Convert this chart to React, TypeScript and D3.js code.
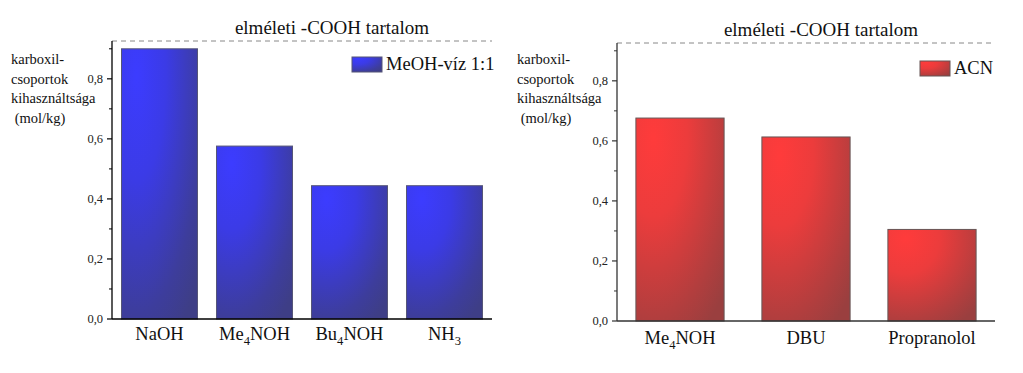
import React from 'react'
import * as d3 from 'd3'

const width = 1023
const height = 373
const font = 'Liberation Serif, Times New Roman, serif'

// left panel: MeOH-víz 1:1
const leftCategories = ['NaOH', 'Me4NOH', 'Bu4NOH', 'NH3']
const leftValues = [0.9, 0.576, 0.444, 0.444]
const leftLegend = 'MeOH-víz 1:1'

// right panel: ACN
const rightCategories = ['Me4NOH', 'DBU', 'Propranolol']
const rightValues = [0.676, 0.613, 0.305]
const rightLegend = 'ACN'

const majorTicks = [0, 0.2, 0.4, 0.6, 0.8]
const minorTicks = [0.1, 0.3, 0.5, 0.7, 0.9]
const theoretical = 0.926
const titleText = 'elméleti -COOH tartalom'
const yLabelLines = ['karboxil-', 'csoportok', 'kihasználtsága', ' (mol/kg)']

const fmt = (v: number) => d3.format('.1f')(v).replace('.', ',')

// digits inside chemical names are drawn as subscripts
function ChemLabel({ text, x, y, size }: { text: string; x: number; y: number; size: number }) {
  const parts = text.split(/(\d+)/).filter(p => p !== '')
  let shifted = false
  return (
    <text x={x} y={y} textAnchor="middle" fontSize={size} fontFamily={font} fill="#111">
      {parts.map((p, i) => {
        const isNum = /^\d+$/.test(p)
        let dy = 0
        if (isNum && !shifted) { dy = 5; shifted = true }
        else if (!isNum && shifted) { dy = -5; shifted = false }
        return (
          <tspan key={i} dy={dy} fontSize={isNum ? size * 0.68 : size}>{p}</tspan>
        )
      })}
    </text>
  )
}

type PanelProps = {
  categories: string[]
  values: number[]
  legend: string
  gradId: string
  x0: number
  x1: number
  y0: number
  yTop: number
  padInner: number
  padOuter: number
  axisColor: string
  stroke: string
  labelX: number
  tickLabelX: number
  titleX: number
  legendX: number
  legendY: number
  xLabelY: number
}

function Panel(p: PanelProps) {
  const x = d3.scaleBand<string>()
    .domain(p.categories)
    .range([p.x0, p.x1])
    .paddingInner(p.padInner)
    .paddingOuter(p.padOuter)
  const y = d3.scaleLinear().domain([0, theoretical]).range([p.y0, p.yTop])

  return (
    <g>
      {/* theoretical line */}
      <line x1={p.x0} x2={p.x1} y1={y(theoretical)} y2={y(theoretical)}
        stroke="#888" strokeWidth={1} strokeDasharray="5,4" />
      <text x={p.titleX} y={y(theoretical) - 7} textAnchor="middle" fontSize={19} fontFamily={font} fill="#111">
        {titleText}
      </text>

      {p.categories.map((c, i) => (
        <rect key={c} x={x(c)} y={y(p.values[i])} width={x.bandwidth()}
          height={y(0) - y(p.values[i])} fill={`url(#${p.gradId})`}
          stroke={p.stroke} strokeWidth={1} />
      ))}

      {/* axes */}
      <line x1={p.x0} x2={p.x0} y1={p.yTop} y2={p.y0} stroke={p.axisColor} strokeWidth={1.3} />
      <line x1={p.x0} x2={p.x1} y1={p.y0} y2={p.y0} stroke={p.axisColor} strokeWidth={1.3} />
      {majorTicks.map(t => (
        <g key={t}>
          <line x1={p.x0 - 5} x2={p.x0} y1={y(t)} y2={y(t)} stroke={p.axisColor} strokeWidth={1.2} />
          <text x={p.tickLabelX} y={y(t) + 4} textAnchor="end" fontSize={12.5} fontFamily={font} fill="#222">
            {fmt(t)}
          </text>
        </g>
      ))}
      {minorTicks.map(t => (
        <line key={t} x1={p.x0 - 3} x2={p.x0} y1={y(t)} y2={y(t)} stroke={p.axisColor} strokeWidth={1} />
      ))}

      {p.categories.map(c => (
        <ChemLabel key={c} text={c} x={(x(c) ?? 0) + x.bandwidth() / 2} y={p.xLabelY} size={18.5} />
      ))}

      <text fontSize={14.5} fontFamily={font} fill="#111">
        {yLabelLines.map((l, i) => (
          <tspan key={i} x={p.labelX} y={64 + i * 19.5} xmlSpace="preserve">{l}</tspan>
        ))}
      </text>

      {/* legend */}
      <rect x={p.legendX} y={p.legendY} width={30} height={15} fill={`url(#${p.gradId})`} stroke={p.stroke} strokeWidth={1} />
      <text x={p.legendX + 34} y={p.legendY + 13} fontSize={18.5} fontFamily={font} fill="#111">{p.legend}</text>
    </g>
  )
}

export default function App() {
  return (
    <svg width={width} height={height} style={{ display: 'block', position: 'absolute', left: 0, top: 0, background: '#fff' }}>
      <defs>
        <radialGradient id="blueFill" cx="0.2" cy="0.1" r="1.1" fx="0.2" fy="0.1">
          <stop offset="0" stopColor="#3c3cff" />
          <stop offset="0.35" stopColor="#3b3be6" />
          <stop offset="0.8" stopColor="#3d3d9c" />
          <stop offset="1" stopColor="#3e3e86" />
        </radialGradient>
        <radialGradient id="redFill" cx="0.2" cy="0.1" r="1.1" fx="0.2" fy="0.1">
          <stop offset="0" stopColor="#ff3b3b" />
          <stop offset="0.35" stopColor="#ec3c3c" />
          <stop offset="0.8" stopColor="#b23e3e" />
          <stop offset="1" stopColor="#9a3f3f" />
        </radialGradient>
      </defs>
      <Panel categories={leftCategories} values={leftValues} legend={leftLegend} gradId="blueFill"
        x0={112} x1={492} y0={319} yTop={41} padInner={0.2} padOuter={0.1}
        axisColor="#000" stroke="#555577" labelX={11} tickLabelX={103} titleX={332}
        legendX={352} legendY={57} xLabelY={340} />
      <Panel categories={rightCategories} values={rightValues} legend={rightLegend} gradId="redFill"
        x0={617} x1={995} y0={321} yTop={43} padInner={0.3} padOuter={0.15}
        axisColor="#333" stroke="#665555" labelX={517} tickLabelX={608} titleX={821}
        legendX={920} legendY={61} xLabelY={344} />
    </svg>
  )
}
